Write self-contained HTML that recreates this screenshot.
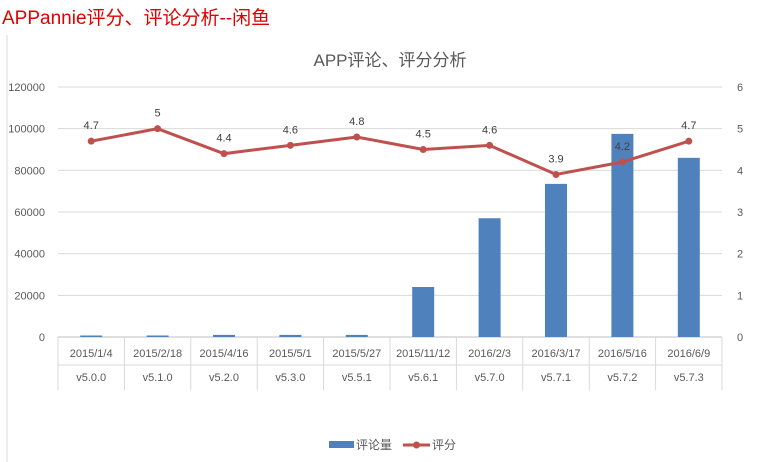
<!DOCTYPE html>
<html><head><meta charset="utf-8"><style>
body{margin:0;width:773px;height:462px;background:#fff;overflow:hidden;font-family:"Liberation Sans","Noto Sans CJK SC",sans-serif}
#hdr{position:absolute;left:2px;top:3px;color:#e00000;font-size:19px}
</style></head><body>
<div id="hdr">APPannie评分、评论分析--闲鱼</div>
<svg id="c" width="773" height="462" style="position:absolute;left:0;top:0"></svg>
<script>
const categories=["2015/1/4","2015/2/18","2015/4/16","2015/5/1","2015/5/27","2015/11/12","2016/2/3","2016/3/17","2016/5/16","2016/6/9"];
const versions=["v5.0.0","v5.1.0","v5.2.0","v5.3.0","v5.5.1","v5.6.1","v5.7.0","v5.7.1","v5.7.2","v5.7.3"];
const reviews=[500,500,1000,1000,1000,24000,57000,73500,97500,86000];
const scores=[4.7,5,4.4,4.6,4.8,4.5,4.6,3.9,4.2,4.7];
const leftTicks=[0,20000,40000,60000,80000,100000,120000];
const rightTicks=[0,1,2,3,4,5,6];
const svg=document.getElementById('c');const NS='http://www.w3.org/2000/svg';
function mk(t,a,p){const e=document.createElementNS(NS,t);for(const k in a)e.setAttribute(k,a[k]);(p||svg).appendChild(e);return e;}
const X0=58,X1=722,Y0=337,Y1=87;
const bw=(X1-X0)/categories.length;
const xC=i=>X0+bw*(i+0.5);
const yL=v=>Y0-(v/120000)*(Y0-Y1);
const yR=v=>Y0-(v/6)*(Y0-Y1);
let e;
e=mk('line',{x1:7,y1:35,x2:7,y2:462,stroke:'#d9d9d9'});


e=mk('text',{x:390,y:66,'text-anchor':'middle','font-size':17,fill:'#595959'});e.textContent='APP评论、评分分析';


leftTicks.forEach(v=>{
 e=mk('line',{x1:X0,x2:X1,y1:yL(v),y2:yL(v),stroke:v===0?'#bfbfbf':'#d9d9d9'});
 
 
 e=mk('text',{x:45,y:yL(v)+4,'text-anchor':'end','font-size':11,fill:'#595959'});e.textContent=v;
 
 
});
rightTicks.forEach(v=>{
 e=mk('text',{x:737,y:yR(v)+4,'text-anchor':'start','font-size':11,fill:'#595959'});e.textContent=v;
 
 
});
for(let i=0;i<=categories.length;i++){
 e=mk('line',{x1:X0+bw*i,x2:X0+bw*i,y1:Y0,y2:390,stroke:'#d9d9d9'});
 
 
}
e=mk('line',{x1:X0,x2:X1,y1:365,y2:365,stroke:'#d9d9d9'});


categories.forEach((c,i)=>{
 e=mk('text',{x:xC(i),y:357,'text-anchor':'middle','font-size':11,fill:'#595959'});e.textContent=c;
 
 
 e=mk('text',{x:xC(i),y:381,'text-anchor':'middle','font-size':11,fill:'#595959'});e.textContent=versions[i];
 
 
 const h=Math.max(1.5,Y0-yL(reviews[i]));
 e=mk('rect',{x:xC(i)-11,y:Y0-h,width:22,height:h,fill:'#4f81bd'});
 
 
});
e=mk('polyline',{points:scores.map((s,i)=>xC(i)+','+yR(s)).join(' '),fill:'none',stroke:'#c0504d','stroke-width':3});


scores.forEach((s,i)=>{
 e=mk('circle',{cx:xC(i),cy:yR(s),r:3.5,fill:'#c0504d'});
 
 
 e=mk('text',{x:xC(i),y:yR(s)-12,'text-anchor':'middle','font-size':11,fill:'#404040'});e.textContent=s;
 
 
});
e=mk('rect',{x:329,y:441,width:25,height:7,fill:'#4f81bd'});


e=mk('text',{x:356,y:449,'font-size':12,fill:'#595959'});e.textContent='评论量';


e=mk('line',{x1:403,x2:430,y1:445,y2:445,stroke:'#c0504d','stroke-width':3});


e=mk('circle',{cx:416.5,cy:445,r:3.5,fill:'#c0504d'});


e=mk('text',{x:432,y:449,'font-size':12,fill:'#595959'});e.textContent='评分';


</script>
</body></html>
